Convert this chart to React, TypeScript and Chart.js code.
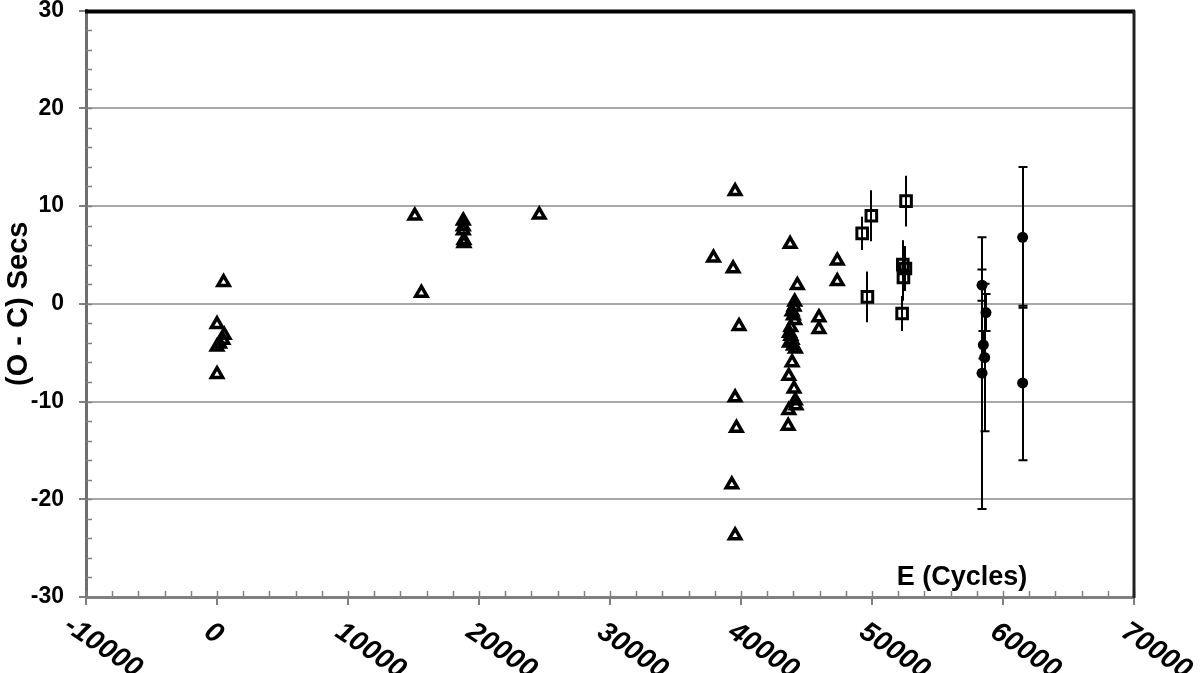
import { useEffect, useRef } from 'react';
import { Chart, registerables } from 'chart.js';
Chart.register(...registerables);

// Triangles (open)
const triE = [
  0, 500, 550, 450, 200, 0, 0,
  15100, 15600, 18800, 18800, 18800, 18850, 18850, 24600,
  37900, 39400, 39550, 39850, 39550, 39650, 39300, 39550,
  43750, 44300, 47350, 47350, 45950, 45950,
  44100, 44050, 43900, 44000, 44100, 43800, 43700, 43800, 43900, 43700, 44000, 44150,
  43900, 43650, 44050, 44150, 44200, 43650, 43600,
];
const triOC = [
  -2.1, 2.2, -3.2, -3.7, -4.1, -4.4, -7.2,
  9.0, 1.1, 8.5, 7.9, 7.5, 6.5, 6.2, 9.1,
  4.7, 3.6, 11.5, -2.3, -9.6, -12.7, -18.5, -23.7,
  6.1, 1.9, 4.4, 2.3, -1.4, -2.6,
  0.2, -0.3, -0.8, -1.2, -1.7, -2.4, -3.0, -3.3, -3.7, -4.0, -4.3, -4.6,
  -6.0, -7.4, -8.7, -9.9, -10.4, -10.9, -12.5,
];

// Squares (open, error bars without caps)
const sqE = [49250, 49950, 49650, 52600, 52350, 52550, 52400, 52300];
const sqOC = [7.2, 9.0, 0.7, 10.5, 4.0, 3.6, 2.7, -1.0];
const sqErr = [1.7, 2.6, 2.6, 2.6, 2.5, 2.3, 2.4, 1.8];

// Filled circles (error bars with caps)
const ciE = [58400, 58700, 58500, 58600, 58400, 61500, 61500];
const ciOC = [1.9, -0.9, -4.2, -5.5, -7.1, 6.8, -8.1];
const ciErr = [1.6, 1.9, 1.4, 7.55, 13.9, 7.2, 7.9];

const xTickValues = [-10000, 0, 10000, 20000, 30000, 40000, 50000, 60000, 70000];
const xTickLabels = ['-10000', '0', '10000', '20000', '30000', '40000', '50000', '60000', '70000'];
const xMinorStep = 2000;
const yMinorStep = 2;

const xTitle = 'E (Cycles)';
const yTitle = '(O - C) Secs';

const FONT = '"Liberation Sans", Arial, sans-serif';

const decorPlugin = {
  id: 'decor',
  afterDatasetsDraw(chart: any) {
    const ctx = chart.ctx;
    const ys = chart.scales.y;
    ctx.save();
    ctx.strokeStyle = '#000';
    chart.data.datasets.forEach((ds: any, di: number) => {
      if (!ds.errors) return;
      const meta = chart.getDatasetMeta(di);
      ctx.lineWidth = ds.errorWidth;
      meta.data.forEach((pt: any, i: number) => {
        const v = ds.data[i].y;
        const e = ds.errors[i];
        const yt = ys.getPixelForValue(v + e);
        const yb = ys.getPixelForValue(v - e);
        const x = Math.round(pt.x);
        ctx.beginPath();
        ctx.moveTo(x, yt);
        ctx.lineTo(x, yb);
        if (ds.errorCap) {
          ctx.moveTo(x - ds.errorCap, yt);
          ctx.lineTo(x + ds.errorCap, yt);
          ctx.moveTo(x - ds.errorCap, yb);
          ctx.lineTo(x + ds.errorCap, yb);
        }
        ctx.stroke();
      });
    });
    ctx.restore();
  },
  afterDraw(chart: any) {
    const ctx = chart.ctx;
    const a = chart.chartArea;
    const xs = chart.scales.x;
    const ys = chart.scales.y;
    ctx.save();
    // minor ticks x
    ctx.strokeStyle = '#808080';
    ctx.lineWidth = 1.5;
    for (let v = xs.min; v <= xs.max; v += xMinorStep) {
      const x = Math.round(xs.getPixelForValue(v)) + 0.5;
      ctx.beginPath();
      ctx.moveTo(x, a.bottom);
      ctx.lineTo(x, a.bottom - 6);
      ctx.stroke();
    }
    // major ticks x (below)
    ctx.lineWidth = 2;
    xTickValues.forEach((v) => {
      const x = Math.round(xs.getPixelForValue(v));
      ctx.beginPath();
      ctx.moveTo(x, a.bottom);
      ctx.lineTo(x, a.bottom + 8);
      ctx.stroke();
    });
    // minor ticks y
    ctx.lineWidth = 1.5;
    for (let v = ys.min; v <= ys.max; v += yMinorStep) {
      const y = Math.round(ys.getPixelForValue(v)) + 0.5;
      ctx.beginPath();
      ctx.moveTo(a.left, y);
      ctx.lineTo(a.left + 6, y);
      ctx.stroke();
    }
    // top and right frame
    ctx.strokeStyle = '#000';
    ctx.lineWidth = 4;
    ctx.beginPath();
    ctx.moveTo(a.left - 1, a.top + 1);
    ctx.lineTo(a.right + 1, a.top + 1);
    ctx.stroke();
    ctx.strokeStyle = '#222';
    ctx.lineWidth = 3;
    ctx.beginPath();
    ctx.moveTo(a.right, a.top);
    ctx.lineTo(a.right, a.bottom + 1);
    ctx.stroke();
    // x tick labels, rotated
    ctx.fillStyle = '#000';
    ctx.font = 'italic bold 28px ' + FONT;
    ctx.textAlign = 'left';
    ctx.textBaseline = 'alphabetic';
    const ang = (34 * Math.PI) / 180;
    xTickValues.forEach((v, i) => {
      const x = xs.getPixelForValue(v);
      const lbl = xTickLabels[i];
      const shift = lbl.startsWith('-') ? ctx.measureText('-').width + 2 : 0;
      ctx.save();
      ctx.translate(x - 3 - shift * Math.cos(ang), a.bottom + 22 - shift * Math.sin(ang));
      ctx.rotate(ang);
      ctx.fillText(lbl, 0, 20);
      ctx.restore();
    });
    // x title inside plot
    ctx.font = 'bold 27px ' + FONT;
    ctx.textAlign = 'center';
    ctx.fillText(xTitle, 962, a.bottom - 12);
    ctx.restore();
  },
};

export default function App() {
  const ref = useRef<HTMLCanvasElement | null>(null);
  useEffect(() => {
    document.body.style.margin = '0';
    const canvas = ref.current!;
    const tri = triE.map((x, i) => ({ x, y: triOC[i] }));
    const sq = sqE.map((x, i) => ({ x, y: sqOC[i] }));
    const ci = ciE.map((x, i) => ({ x, y: ciOC[i] }));
    const chart = new Chart(canvas, {
      type: 'scatter',
      data: {
        datasets: [
          {
            label: 'tri',
            data: tri,
            pointStyle: 'triangle',
            pointRadius: 6.5,
            pointBorderWidth: 3.5,
            pointBorderColor: '#000',
            pointBackgroundColor: 'rgba(0,0,0,0)',
          } as any,
          {
            label: 'sq',
            data: sq,
            pointStyle: 'rect',
            pointRadius: 7.5,
            pointBorderWidth: 3,
            pointBorderColor: '#000',
            pointBackgroundColor: 'rgba(0,0,0,0)',
            errors: sqErr,
            errorWidth: 2,
            errorCap: 0,
          } as any,
          {
            label: 'ci',
            data: ci,
            pointStyle: 'circle',
            pointRadius: 5.5,
            pointBorderWidth: 0,
            pointBackgroundColor: '#000',
            errors: ciErr,
            errorWidth: 2,
            errorCap: 4.5,
          } as any,
        ],
      },
      options: {
        responsive: false,
        animation: false,
        devicePixelRatio: 1,
        layout: { padding: { left: 0, right: 66, top: 8, bottom: 0 } },
        plugins: { legend: { display: false }, tooltip: { enabled: false } },
        scales: {
          x: {
            type: 'linear',
            min: -10000,
            max: 70000,
            ticks: { display: false, stepSize: 10000 },
            grid: { display: false, drawTicks: false },
            border: { display: true, color: '#808080', width: 3 },
            afterFit: (s: any) => {
              s.height = 76;
              s.paddingLeft = 0;
              s.paddingRight = 0;
              s.paddingTop = 0;
              s.paddingBottom = 0;
            },
          },
          y: {
            type: 'linear',
            min: -30,
            max: 30,
            ticks: {
              stepSize: 10,
              color: '#000',
              font: { family: FONT, size: 23, weight: 'bold' },
              padding: 15,
            },
            grid: {
              color: '#a8a8a8',
              lineWidth: 2,
              tickColor: '#808080',
              tickLength: 7,
              tickWidth: 2,
            },
            border: { display: true, color: '#6e6e6e', width: 3 },
            title: {
              display: true,
              text: yTitle,
              color: '#000',
              font: { family: FONT, size: 29, weight: 'bold' },
              padding: { top: 2, bottom: 0 },
            },
            afterFit: (s: any) => {
              s.width = 86;
              s.paddingLeft = 0;
              s.paddingRight = 0;
              s.paddingTop = 0;
              s.paddingBottom = 0;
            },
          },
        },
      } as any,
      plugins: [decorPlugin],
    });
    return () => chart.destroy();
  }, []);
  return (
    <div style={{ position: 'absolute', left: 0, top: 0, width: 1200, height: 673 }}>
      <canvas ref={ref} width={1200} height={673} />
    </div>
  );
}
